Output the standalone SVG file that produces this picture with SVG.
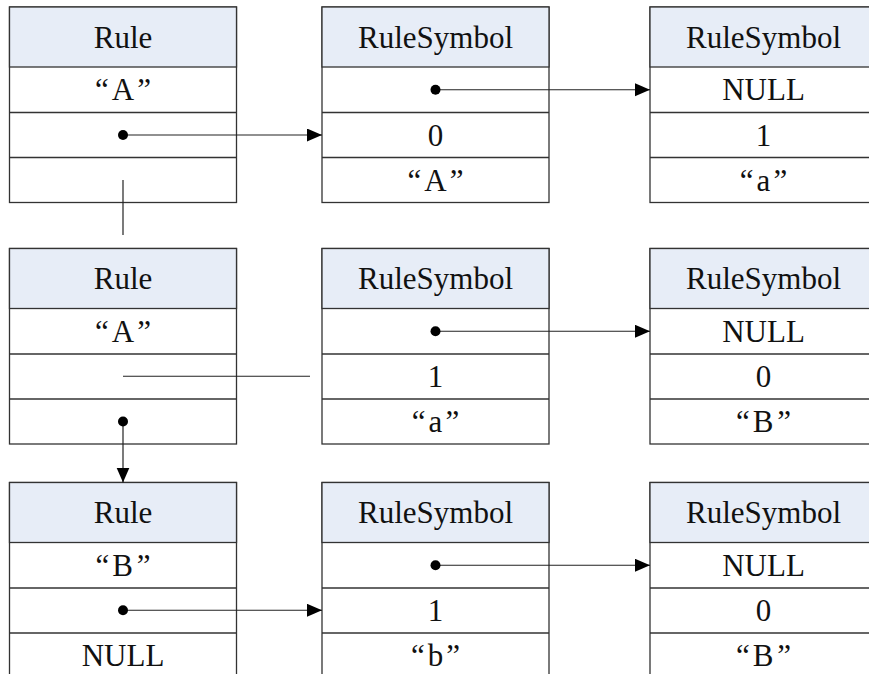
<svg xmlns="http://www.w3.org/2000/svg" width="869" height="674" viewBox="0 0 869 674">
<style>
.box{fill:#ffffff;stroke:#333333;stroke-width:1.3}
.hdr{fill:#E7EDF7;stroke:#333333;stroke-width:1.3}
.sep{stroke:#333333;stroke-width:1.3}
text{font-family:"Liberation Serif","Times New Roman",serif;font-size:31px;fill:#111111;text-anchor:middle}
.ln{stroke:#222222;stroke-width:1.2;fill:none}
.dot{fill:#000000}
</style>
<defs>
<marker id="arr" markerUnits="userSpaceOnUse" markerWidth="16" markerHeight="14" refX="15" refY="6.5" orient="auto">
<path d="M0,0 L15,6.5 L0,13 z" fill="#000000"/>
</marker>
<g id="cell">
<rect class="box" x="0" y="0" width="227" height="195.5"/>
<rect class="hdr" x="0" y="0" width="227" height="60"/>
<line class="sep" x1="0" y1="105.5" x2="227" y2="105.5"/>
<line class="sep" x1="0" y1="150.5" x2="227" y2="150.5"/>
</g>
</defs>
<rect width="869" height="674" fill="#ffffff"/>

<g id="rule1" transform="translate(9.5,7)">
<use href="#cell"/>
<text x="113.5" y="40.5">Rule</text>
<text x="113.5" y="93">“<tspan dx="3">A</tspan><tspan dx="3">”</tspan></text>
</g>
<g id="sym1a" transform="translate(322,7)">
<use href="#cell"/>
<text x="113.5" y="40.5">RuleSymbol</text>
<text x="113.5" y="138.5">0</text>
<text x="113.5" y="183.5">“<tspan dx="3">A</tspan><tspan dx="3">”</tspan></text>
</g>
<g id="sym1b" transform="translate(650,7)">
<use href="#cell"/>
<text x="113.5" y="40.5">RuleSymbol</text>
<text x="113.5" y="93">NULL</text>
<text x="113.5" y="138.5">1</text>
<text x="113.5" y="183.5">“<tspan dx="3">a</tspan><tspan dx="3">”</tspan></text>
</g>

<g id="rule2" transform="translate(9.5,248.5)">
<use href="#cell"/>
<text x="113.5" y="40.5">Rule</text>
<text x="113.5" y="93">“<tspan dx="3">A</tspan><tspan dx="3">”</tspan></text>
</g>
<g id="sym2a" transform="translate(322,248.5)">
<use href="#cell"/>
<text x="113.5" y="40.5">RuleSymbol</text>
<text x="113.5" y="138.5">1</text>
<text x="113.5" y="183.5">“<tspan dx="3">a</tspan><tspan dx="3">”</tspan></text>
</g>
<g id="sym2b" transform="translate(650,248.5)">
<use href="#cell"/>
<text x="113.5" y="40.5">RuleSymbol</text>
<text x="113.5" y="93">NULL</text>
<text x="113.5" y="138.5">0</text>
<text x="113.5" y="183.5">“<tspan dx="3">B</tspan><tspan dx="4">”</tspan></text>
</g>

<g id="rule3" transform="translate(9.5,482.5)">
<use href="#cell"/>
<text x="113.5" y="40.5">Rule</text>
<text x="113.5" y="93">“<tspan dx="3">B</tspan><tspan dx="4">”</tspan></text>
<text x="113.5" y="183.5">NULL</text>
</g>
<g id="sym3a" transform="translate(322,482.5)">
<use href="#cell"/>
<text x="113.5" y="40.5">RuleSymbol</text>
<text x="113.5" y="138.5">1</text>
<text x="113.5" y="183.5">“<tspan dx="3">b</tspan><tspan dx="3">”</tspan></text>
</g>
<g id="sym3b" transform="translate(650,482.5)">
<use href="#cell"/>
<text x="113.5" y="40.5">RuleSymbol</text>
<text x="113.5" y="93">NULL</text>
<text x="113.5" y="138.5">0</text>
<text x="113.5" y="183.5">“<tspan dx="3">B</tspan><tspan dx="4">”</tspan></text>
</g>

<g id="connectors">
<line class="ln" x1="123" y1="135" x2="322" y2="135" marker-end="url(#arr)"/>
<circle class="dot" cx="123" cy="135" r="5"/>
<line class="ln" x1="435.5" y1="89.75" x2="650" y2="89.75" marker-end="url(#arr)"/>
<circle class="dot" cx="435.5" cy="89.75" r="5"/>
<line class="ln" x1="123" y1="180" x2="123" y2="235"/>

<line class="ln" x1="123" y1="376.25" x2="310" y2="376.25"/>
<line class="ln" x1="435.5" y1="331.25" x2="650" y2="331.25" marker-end="url(#arr)"/>
<circle class="dot" cx="435.5" cy="331.25" r="5"/>
<line class="ln" x1="123" y1="421.5" x2="123" y2="482.5" marker-end="url(#arr)"/>
<circle class="dot" cx="123" cy="421.5" r="5"/>

<line class="ln" x1="123" y1="610.25" x2="322" y2="610.25" marker-end="url(#arr)"/>
<circle class="dot" cx="123" cy="610.25" r="5"/>
<line class="ln" x1="435.5" y1="565.25" x2="650" y2="565.25" marker-end="url(#arr)"/>
<circle class="dot" cx="435.5" cy="565.25" r="5"/>
</g>
</svg>
